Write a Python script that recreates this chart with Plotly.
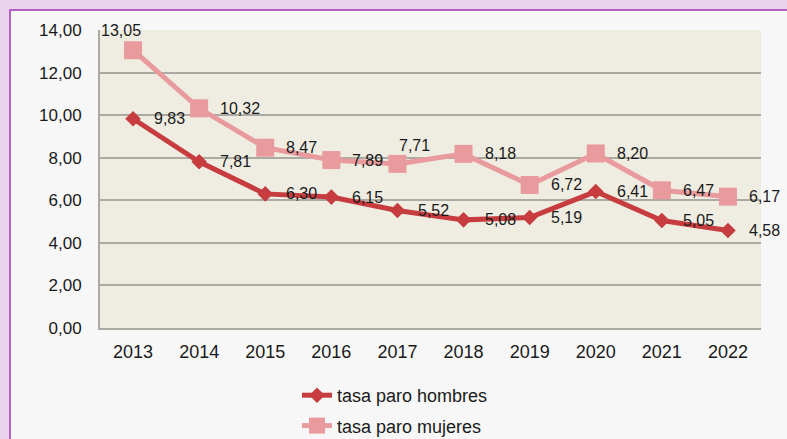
import plotly.graph_objects as go

years = ["2013", "2014", "2015", "2016", "2017", "2018", "2019", "2020", "2021", "2022"]
hombres = [9.83, 7.81, 6.30, 6.15, 5.52, 5.08, 5.19, 6.41, 5.05, 4.58]
mujeres = [13.05, 10.32, 8.47, 7.89, 7.71, 8.18, 6.72, 8.20, 6.47, 6.17]
y_ticks = [0, 2, 4, 6, 8, 10, 12, 14]

C_H = "#C63C3F"
C_M = "#E99A9D"
FONT = "Liberation Sans, Arial, sans-serif"

W, H = 787, 439
ML, MR, MT, MB = 100, 26, 30, 111
PW, PH = W - ML - MR, H - MT - MB


def fmt(v):
    return f"{v:.2f}".replace(".", ",")


def px_x(p):
    return (p - ML) / PW


def px_y(p):
    return (H - MB - p) / PH


fig = go.Figure()

fig.add_trace(go.Scatter(
    x=years, y=hombres, name="tasa paro hombres", mode="lines+markers",
    line=dict(color=C_H, width=5), legendgroup="h",
    marker=dict(symbol="diamond", size=12, color=C_H),
))
fig.add_trace(go.Scatter(
    x=years, y=mujeres, name="tasa paro mujeres", mode="lines+markers",
    line=dict(color=C_M, width=5), legendgroup="m",
    marker=dict(symbol="square", size=18, color=C_M),
))

# value labels beside each point
label_font = dict(family=FONT, size=16, color="#1a1a1a")
for i, v in enumerate(hombres):
    fig.add_annotation(x=i, y=v, xref="x", yref="y", text=fmt(v), showarrow=False,
                       xanchor="left", yanchor="middle", xshift=19, font=label_font)
for i, v in enumerate(mujeres):
    if i == 0:
        kw = dict(xanchor="center", yanchor="bottom", xshift=-12, yshift=9)
    elif years[i] == "2017":
        kw = dict(xanchor="left", yanchor="bottom", xshift=0, yshift=8)
    else:
        kw = dict(xanchor="left", yanchor="middle", xshift=19)
    fig.add_annotation(x=i, y=v, xref="x", yref="y", text=fmt(v), showarrow=False,
                       font=label_font, **kw)

shapes = [
    # inner panel with purple frame edge
    dict(type="rect", xref="paper", yref="paper", layer="below",
         x0=px_x(10), x1=px_x(W + 60), y0=px_y(H + 60), y1=px_y(10),
         fillcolor="#F7F7F7", line=dict(color="#B260C4", width=2)),
    # plot area fill
    dict(type="rect", xref="paper", yref="paper", layer="below",
         x0=0, x1=1, y0=0, y1=1, fillcolor="#EFEDE2", line=dict(width=0)),
]

fig.update_layout(
    width=W, height=H,
    margin=dict(l=ML, r=MR, t=MT, b=MB, autoexpand=False),
    paper_bgcolor="#E9D3EE",
    plot_bgcolor="#EFEDE2",
    font=dict(family=FONT, size=16, color="#1a1a1a"),
    showlegend=True,
    legend=dict(x=px_x(297), y=px_y(377), xanchor="left", yanchor="top",
                bgcolor="rgba(0,0,0,0)", font=dict(size=18, family=FONT),
                tracegroupgap=4, itemwidth=30),
    shapes=shapes,
)
fig.update_xaxes(
    type="category", range=[-0.5, 9.5], showgrid=False,
    showline=True, linecolor="#ABAAA2", linewidth=2,
    ticks="", tickfont=dict(size=18, family=FONT), ticklabelstandoff=6,
)
fig.update_yaxes(
    range=[0, 14], tickvals=y_ticks, ticktext=[fmt(v) for v in y_ticks],
    showgrid=True, gridcolor="#ABAAA2", gridwidth=2,
    showline=True, linecolor="#ABAAA2", linewidth=2, zeroline=False,
    ticks="", tickfont=dict(size=17, family=FONT), ticklabelstandoff=13,
)

fig.write_html("out.html")
